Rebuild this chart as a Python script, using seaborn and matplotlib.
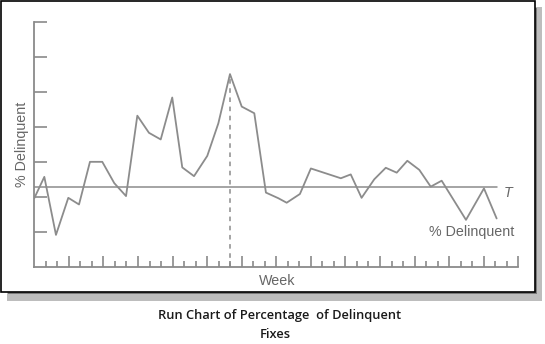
import matplotlib
matplotlib.use("Agg")
import matplotlib.pyplot as plt
from matplotlib.patches import Rectangle
import numpy as np
import pandas as pd
import seaborn as sns

# ---- data ----
weeks = [0, 0.87, 1.88, 2.95, 3.88, 4.83, 5.9, 6.94, 7.96, 8.94, 9.95, 10.97,
         11.97, 12.84, 13.86, 15.01, 15.97, 16.98, 18.0, 19.09, 20.1, 21.17,
         21.9, 23.05, 24.0, 26.6, 27.46, 28.4, 29.5, 30.5, 31.45, 32.37,
         33.41, 34.4, 35.35, 37.46, 39.02, 40.12]
pct_delinquent = [1.96, 2.57, 0.91, 1.97, 1.78, 3.00, 3.00, 2.39, 2.02, 4.32,
                  3.83, 3.64, 4.84, 2.84, 2.59, 3.17, 4.10, 5.51, 4.58, 4.39,
                  2.12, 1.96, 1.83, 2.08, 2.81, 2.53, 2.64, 1.97, 2.50, 2.83,
                  2.69, 3.03, 2.77, 2.29, 2.46, 1.34, 2.24, 1.38]
target = 2.29
x_max = 42
y_max = 7
caption_line1 = "Run Chart of Percentage  of Delinquent"
caption_line2 = "Fixes"

df = pd.DataFrame({"Week": weeks, "% Delinquent": pct_delinquent})

sns.set_style("white")
plt.rcParams["font.family"] = ["Liberation Sans", "DejaVu Sans"]

W, H = 545, 344
fig = plt.figure(figsize=(W / 100, H / 100), dpi=100)
fig.patch.set_facecolor("white")

def fx(px):
    return px / W

def fy(py):
    return 1 - py / H

# frame shadow and border
fig.patches.append(Rectangle((fx(7), fy(300.5)), fx(541.5) - fx(7), fy(7) - fy(300.5),
                             transform=fig.transFigure, facecolor="#bdbdbd",
                             edgecolor="none", zorder=0))
fig.patches.append(Rectangle((fx(535), fy(293.5)), fx(537) - fx(535), fy(8) - fy(293.5),
                             transform=fig.transFigure, facecolor="#7a7a7a",
                             edgecolor="none", zorder=0))
fig.patches.append(Rectangle((fx(8), fy(293.5)), fx(537) - fx(8), fy(291.5) - fy(293.5),
                             transform=fig.transFigure, facecolor="#7a7a7a",
                             edgecolor="none", zorder=0))
fig.patches.append(Rectangle((fx(0.8), fy(291.5)), fx(534.5) - fx(0.8), fy(0.8) - fy(291.5),
                             transform=fig.transFigure, facecolor="white",
                             edgecolor="black", linewidth=1.2, zorder=1))

ax_left, ax_right, ax_bottom, ax_top = 34.3, 518.3, 266.7, 22.0
ax = fig.add_axes([fx(ax_left), fy(ax_bottom), fx(ax_right) - fx(ax_left),
                   fy(ax_top) - fy(ax_bottom)])
ax.set_zorder(2)
ax.patch.set_alpha(0)

line_col = "#8c8c8c"
sns.lineplot(data=df, x="Week", y="% Delinquent", ax=ax, color=line_col,
             linewidth=1.3, sort=False)

# target line
ax.plot([0, 40.15], [target, target], color=line_col, linewidth=1.1)

# dashed line under the peak
i_peak = int(np.argmax(pct_delinquent))
ax.vlines(weeks[i_peak], 0, pct_delinquent[i_peak], colors=line_col,
          linestyles=(0, (3, 3)), linewidth=1.1)

ax.set_xlim(0, x_max)
ax.set_ylim(0, y_max)

for s in ["top", "right"]:
    ax.spines[s].set_visible(False)
for s in ["left", "bottom"]:
    ax.spines[s].set_color("#8a8a8a")
    ax.spines[s].set_linewidth(1.3)

ax.set_xticks(np.arange(3, x_max + 1, 3))
ax.set_xticks(np.arange(1, x_max, 1), minor=True)
ax.set_yticks(np.arange(1, y_max + 1, 1))
ax.tick_params(axis="x", which="major", direction="in", length=8, width=1.2,
               color="#8a8a8a", bottom=True, labelbottom=False)
ax.tick_params(axis="x", which="minor", direction="in", length=4, width=1.2,
               color="#8a8a8a", bottom=True)
ax.tick_params(axis="y", which="major", direction="in", length=9, width=1.2,
               color="#8a8a8a", left=True, labelleft=False)

text_col = "#666666"
fs = 10.3
ax.set_xlabel("Week", fontsize=fs, color=text_col)
ax.xaxis.set_label_coords((277.5 - ax_left) / (ax_right - ax_left),
                          -(281 - ax_bottom) / (ax_bottom - ax_top))
ax.xaxis.label.set_va("center")
ax.set_ylabel("% Delinquent", fontsize=fs, color=text_col)
ax.yaxis.set_label_coords((22 - ax_left) / (ax_right - ax_left),
                          (ax_bottom - 144) / (ax_bottom - ax_top))
ax.yaxis.label.set_va("center")

ax.text(41.13, 2.10, "T", style="italic", fontsize=fs, color=text_col,
        ha="center", va="center")
ax.text(37.95, 1.0, "% Delinquent", fontsize=fs, color=text_col,
        ha="center", va="center")

fig.text(fx(279.5), fy(315.5), caption_line1, ha="center", va="center",
         fontsize=9.3, fontweight="semibold", color="#1a1a1a",
         family=["Open Sans", "DejaVu Sans"])
fig.text(fx(275), fy(334), caption_line2, ha="center", va="center",
         fontsize=9.3, fontweight="semibold", color="#1a1a1a",
         family=["Open Sans", "DejaVu Sans"])

fig.savefig("out.png", dpi=100)
